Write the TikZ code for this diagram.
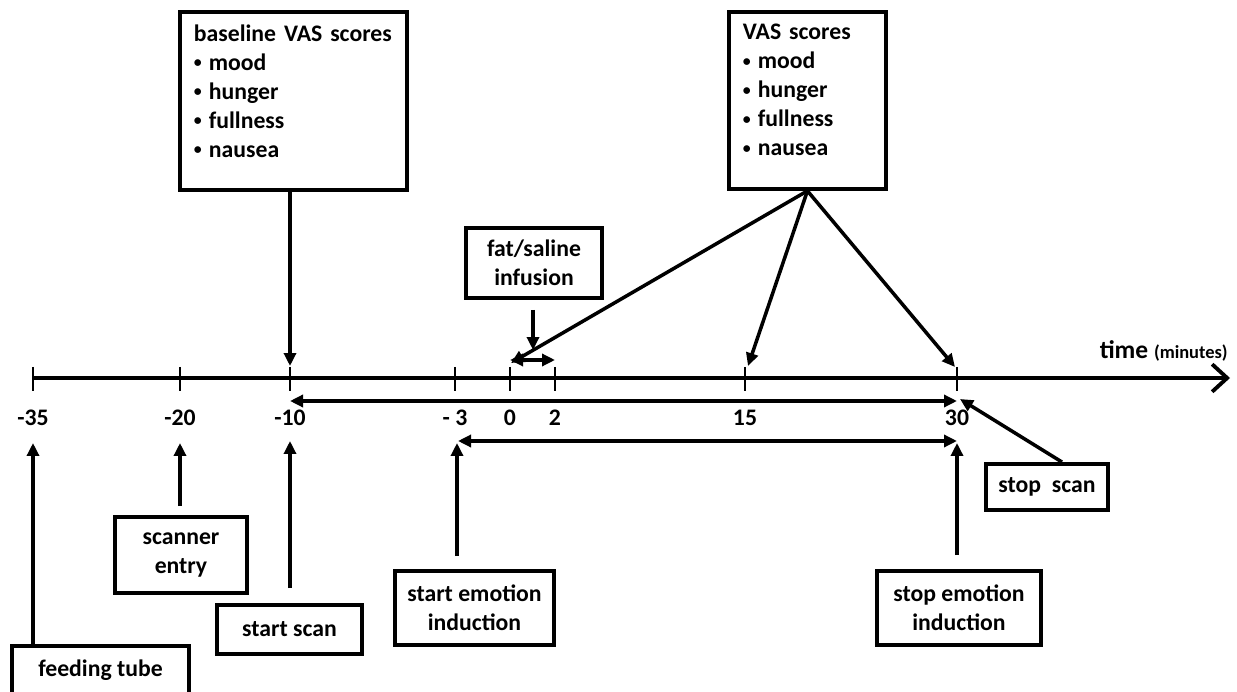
\documentclass[tikz,border=0pt]{standalone}
\usepackage{fontspec}
\setmainfont{Carlito}
\usetikzlibrary{arrows.meta}

\newcommand{\vasdot}{{\fontsize{9}{9}\selectfont\raisebox{0.15em}{\textbullet}}\hspace{0.3em}}

\begin{document}
\begin{tikzpicture}[x=0.02cm, y=-0.02cm,
    font=\fontsize{13.5}{16.5}\selectfont\bfseries,
    box/.style={draw=black, line width=2.2pt, align=center, inner sep=0pt},
    listbox/.style={draw=black, line width=2.2pt, align=left, inner xsep=0.28cm, inner ysep=0.25cm, anchor=north west},
    arr/.style={line width=2pt, -{Triangle[length=0.26cm, width=0.24cm]}},
    dbl/.style={line width=2pt, {Triangle[length=0.26cm, width=0.24cm]}-{Triangle[length=0.26cm, width=0.24cm]}},
    tick/.style={line width=0.8pt}]
    \useasboundingbox (0,0) rectangle (1237,692);

    % time axis
    \draw[line width=2.2pt, -{Straight Barb[length=0.3cm, width=0.55cm]}] (33,378) -- (1230,378);
    \node[anchor=south east, inner sep=0pt] (time) at (1228,362) {\fontsize{14.5}{16}\selectfont time {\fontsize{10.5}{12}\selectfont(minutes)}};
    \foreach \x/\val/\lab in {33/-35/-35, 180/-20/-20, 290/-10/-10, 455/-3/- 3, 510/0/0, 555/2/2, 745/15/15, 957/30/30} {
        \draw[tick] (\x,367) -- (\x,391);
        \coordinate (t\val) at (\x,378);
        \node (l\val) at (\x,418) {\lab};
    }

    % scan and emotion periods
    \draw[dbl] (290,401) -- (957,401);
    \draw[dbl] (458,441) -- (957,441);

    % boxes above the axis
    \node[listbox, text width=3.98cm] (base) at (178,10) {baseline VAS scores\\
        \vasdot mood\\ \vasdot hunger\\ \vasdot fullness\\
        \vasdot nausea\rule[-0.41cm]{0pt}{0pt}};
    \node[listbox, text width=2.58cm] (vas) at (727,10) {VAS scores\\
        \vasdot mood\\ \vasdot hunger\\ \vasdot fullness\\
        \vasdot nausea\rule[-0.41cm]{0pt}{0pt}};
    \node[box, minimum width=2.72cm, minimum height=1.4cm] (fat) at (534,263) {fat/saline\\ infusion};

    % boxes below the axis
    \node[box, minimum width=3.54cm, minimum height=0.98cm] (ft) at (100.5,670.5) {feeding tube};
    \node[box, minimum width=2.64cm, minimum height=1.52cm] (entry) at (181,555) {scanner\\ entry};
    \node[box, minimum width=2.9cm, minimum height=0.98cm] (startscan) at (289.5,629.5) {start scan};
    \node[box, minimum width=3.18cm, minimum height=1.48cm] (startemo) at (474.5,608) {start emotion\\ induction};
    \node[box, minimum width=3.28cm, minimum height=1.48cm] (stopemo) at (959,608) {stop emotion\\ induction};
    \node[box, minimum width=2.44cm, minimum height=0.92cm] (stopscan) at (1047,487) {stop\ \ scan};

    % arrow tips
    \coordinate (hitBase) at (290,366);
    \coordinate (hitZero) at (511,363);
    \coordinate (hitFifteen) at (748,366);
    \coordinate (hitThirty) at (955,367);
    \coordinate (hitFat) at (533,350);
    \coordinate (hitFt) at (33,443);
    \coordinate (hitEntry) at (180,443);
    \coordinate (hitStartScan) at (290,441);
    \coordinate (hitStartEmo) at (457,443);
    \coordinate (hitStopEmo) at (957,443);
    \coordinate (hitStopScan) at (960,399);

    \draw[arr] (base.south -| t-10) -- (hitBase);
    \draw[arr] (vas.south) -- (hitZero);
    \draw[arr] (vas.south) -- (hitFifteen);
    \draw[arr] (vas.south) -- (hitThirty);
    \draw[arr, shorten <=0.2cm] (fat.south -| hitFat) -- (hitFat);
    \draw[dbl] (t0 |- 0,360) -- (t2 |- 0,360);

    \draw[arr] (ft.north -| t-35) -- (hitFt);
    \draw[arr, shorten <=0.18cm] (entry.north -| t-20) -- (hitEntry);
    \draw[arr, shorten <=0.3cm] (startscan.north -| t-10) -- (hitStartScan);
    \draw[arr, shorten <=0.26cm] (startemo.north -| hitStartEmo) -- (hitStartEmo);
    \draw[arr, shorten <=0.28cm] (stopemo.north -| t30) -- (hitStopEmo);
    \draw[arr] (stopscan.north -| 1062,0) -- (hitStopScan);
\end{tikzpicture}
\end{document}
